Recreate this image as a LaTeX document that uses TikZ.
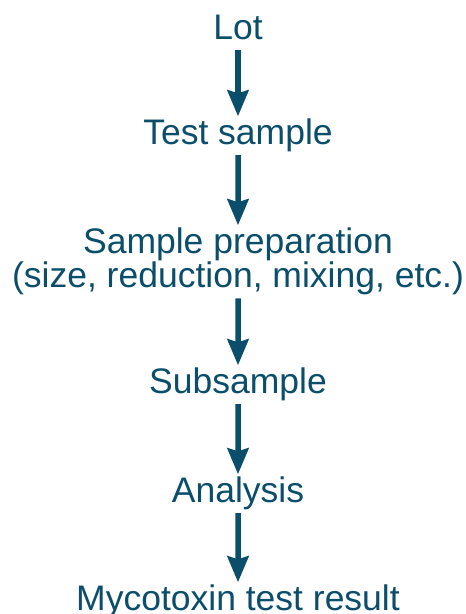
\documentclass[tikz,border=0pt]{standalone}
\usepackage{fontspec}
\setmainfont{Liberation Sans}
\usetikzlibrary{arrows.meta}

\definecolor{stageteal}{RGB}{11,78,107}
\tikzstyle{s} = [inner sep=0pt, text=stageteal, font=\fontsize{35.5}{34}\selectfont, text height=25.5pt, text depth=7.5pt]

\begin{document}
\begin{tikzpicture}[stage/.style={s},
		level 1/.style={level distance=105pt},
		level 2/.style={level distance=126pt},
		level 3/.style={level distance=123pt},
		level 4/.style={level distance=109pt},
		level 5/.style={level distance=108pt},
		flow/.style = {draw=stageteal, line width=5.5pt, -{Stealth[length=26pt,width=21pt,inset=3pt]}, shorten <=3.5pt, shorten >=2pt},
		edge from parent/.style={flow}]
		\useasboundingbox (0,0) rectangle (466pt,-614pt);
		\node (lot) [stage] at (238pt,-30pt) {Lot}
		child {
			node (test) [stage] {Test sample}
			child {node (prep) [inner sep=0pt, text=stageteal, font=\fontsize{35.5}{34}\selectfont, align=center] {Sample preparation\\(size, reduction, mixing, etc.)}
				child {node (sub) [stage] {Subsample}
					child {node (ana) [stage] {Analysis}
						child {node (res) [stage] {Mycotoxin test result}}
					}
				}
			}
		};
	\end{tikzpicture}
\end{document}
